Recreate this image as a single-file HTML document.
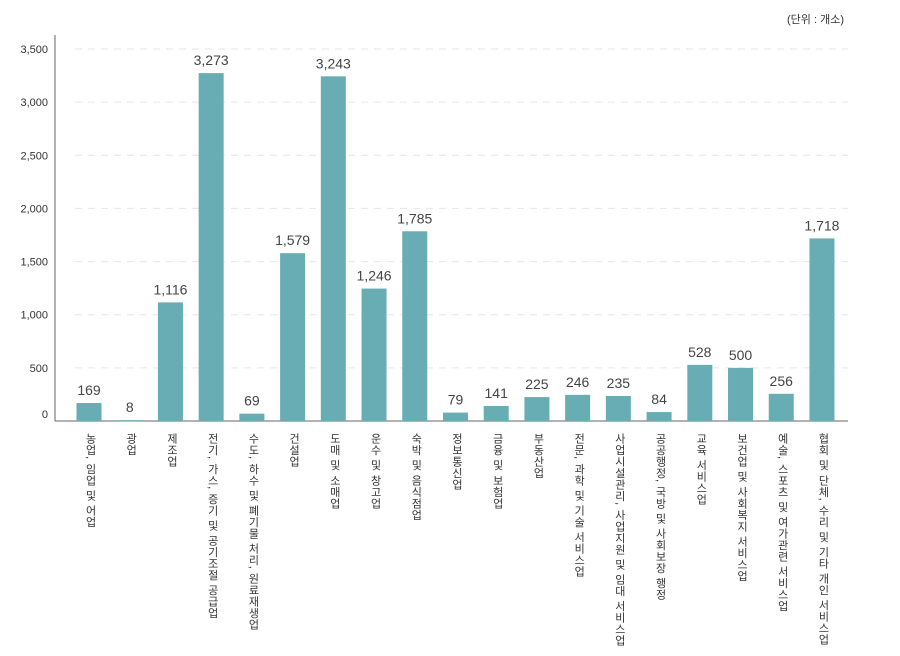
<!DOCTYPE html>
<html><head><meta charset="utf-8">
<style>
body{margin:0;background:#fff;font-family:"Liberation Sans","Noto Sans CJK KR",sans-serif;}
#wrap{position:relative;width:900px;height:656px;overflow:hidden;}
.unit{position:absolute;right:56px;top:11px;font-size:11px;color:#333;}
.xl{position:absolute;top:433px;writing-mode:vertical-rl;font-size:11px;color:#333;white-space:nowrap;line-height:13px;letter-spacing:0.5px;}
</style></head>
<body>
<div id="wrap">
<div class="unit">(단위 : 개소)</div>
<svg id="chart" width="900" height="656"></svg>
</div>
<script>
const categories=["농업, 임업 및 어업","광업","제조업","전기, 가스, 증기 및 공기조절 공급업","수도, 하수 및  폐기물 처리, 원료재생업","건설업","도매 및 소매업","운수 및 창고업","숙박 및 음식점업","정보통신업","금융 및 보험업","부동산업","전문, 과학 및 기술 서비스업","사업시설관리, 사업지원 및 임대 서비스업","공공행정, 국방 및 사회보장 행정","교육 서비스업","보건업 및 사회복지 서비스업","예술, 스포츠 및 여가관련 서비스업","협회 및 단체, 수리 및 기타 개인 서비스업"];
const values=[169,8,1116,3273,69,1579,3243,1246,1785,79,141,225,246,235,84,528,500,256,1718];
const valueLabels=["169","8","1,116","3,273","69","1,579","3,243","1,246","1,785","79","141","225","246","235","84","528","500","256","1,718"];
const yTicks=[0,500,1000,1500,2000,2500,3000,3500];
const yTickLabels=["0","500","1,000","1,500","2,000","2,500","3,000","3,500"];

const NS="http://www.w3.org/2000/svg";
const svg=document.getElementById('chart');
const wrap=document.getElementById('wrap');
const y0=421,yTop=49,yMax=3500,x0=55,x1=848;
const yScale=v=>y0-(v/yMax)*(y0-yTop);
const step=40.72,firstC=89,bw=25;
const xScale=i=>firstC+i*step;
function mk(t,a){const e=document.createElementNS(NS,t);for(const k in a)e.setAttribute(k,a[k]);svg.appendChild(e);return e;}

yTicks.forEach((v,i)=>{
  const y=yScale(v);
  if(v>0){
    const g=mk('line',{x1:x0+20,x2:x1,y1:y,y2:y,stroke:'#e6e6e6','stroke-dasharray':'7,6'});
    
    
  }
  const t=mk('text',{x:48,y:v===0?y-3:y+4,'text-anchor':'end','font-size':'11',fill:'#333'});
  t.textContent=yTickLabels[i];
  
  
});
const ax=mk('line',{x1:x0,x2:x0,y1:35,y2:y0,stroke:'#666'});


const bx=mk('line',{x1:x0,x2:x1,y1:y0,y2:y0,stroke:'#666'});



values.forEach((v,i)=>{
  const cx=xScale(i),y=yScale(v);
  const r=mk('rect',{x:cx-bw/2,y:y,width:bw,height:Math.max(y0-y,1.5),fill:'#67adb3'});
  
  
  const t=mk('text',{x:cx,y:y-8,'text-anchor':'middle','font-size':'14',fill:'#444'});
  t.textContent=valueLabels[i];
  
  
  const d=document.createElement('div');
  d.className='xl';
  d.style.left=(cx-6)+'px';
  d.textContent=categories[i];
  
  
  wrap.appendChild(d);
});
</script>
</body></html>
